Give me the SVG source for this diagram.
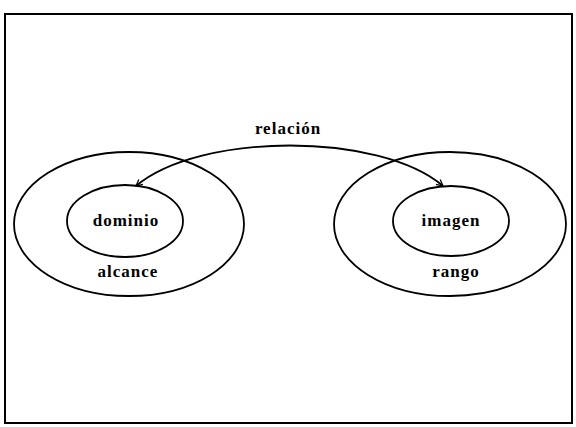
<svg xmlns="http://www.w3.org/2000/svg" width="576" height="427" viewBox="0 0 576 427">
<defs>
<style>
.sh{fill:none;stroke:#000;stroke-width:1.8}
.t{font-family:"Liberation Serif",serif;font-weight:bold;font-size:17px;letter-spacing:1px;fill:#000;text-anchor:middle}
</style>
<marker id="ah" viewBox="0 0 10 10" refX="9" refY="5" markerWidth="8" markerHeight="8" markerUnits="userSpaceOnUse" orient="auto-start-reverse">
<path d="M1,1 L9,5 L1,9" fill="none" stroke="#000" stroke-width="1.6"/>
</marker>
</defs>
<rect width="576" height="427" fill="#fff"/>
<rect x="5" y="14" width="567" height="409" fill="none" stroke="#000" stroke-width="2"/>
<g id="alcance">
<ellipse class="sh" cx="129" cy="224" rx="115" ry="72"/>
<text class="t" x="128" y="277">alcance</text>
</g>
<g id="dominio">
<ellipse class="sh" cx="125" cy="221" rx="58" ry="36"/>
<text class="t" x="126" y="226">dominio</text>
</g>
<g id="rango">
<ellipse class="sh" cx="450" cy="224" rx="116" ry="72"/>
<text class="t" x="456" y="277">rango</text>
</g>
<g id="imagen">
<ellipse class="sh" cx="451" cy="221" rx="58" ry="35"/>
<text class="t" x="451" y="226">imagen</text>
</g>
<g id="connectors">
<path class="sh" d="M136,186 C200,132 380,132 443,186" marker-start="url(#ah)" marker-end="url(#ah)"/>
<text class="t" x="288" y="134">relación</text>
</g>
</svg>
